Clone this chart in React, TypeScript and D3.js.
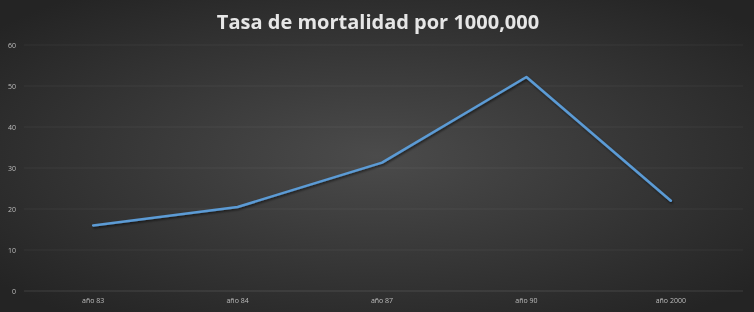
import React from "react";
import * as d3 from "d3";

const categories = ["año 83", "año 84", "año 87", "año 90", "año 2000"];
const values = [16, 20.5, 31.3, 52.2, 22];
const yTicks = [0, 10, 20, 30, 40, 50, 60];
const title = "Tasa de mortalidad por 1000,000";

const W = 754;
const H = 312;
const margin = { left: 21, right: 11, top: 45, bottom: 21 };

export default function App() {
  const x = d3
    .scaleBand<string>()
    .domain(categories)
    .range([margin.left, W - margin.right]);
  const y = d3
    .scaleLinear()
    .domain([0, 60])
    .range([H - margin.bottom, margin.top]);
  const line = d3
    .line<number>()
    .x((_, i) => (x(categories[i]) as number) + x.bandwidth() / 2)
    .y((d) => y(d));

  return (
    <div style={{ position: "fixed", left: 0, top: 0, width: W, height: H }}>
      <svg width={W} height={H} style={{ display: "block" }}>
        <defs>
          <radialGradient id="bg" cx="50%" cy="50%" r="65%">
            <stop offset="0%" stopColor="#4b4b4b" />
            <stop offset="100%" stopColor="#242424" />
          </radialGradient>
          <filter id="sh" x="-10%" y="-10%" width="120%" height="120%">
            <feDropShadow dx="1" dy="1.5" stdDeviation="1.2" floodColor="#000" floodOpacity="0.6" />
          </filter>
        </defs>
        <rect x={0} y={0} width={W} height={H} fill="url(#bg)" />
        <text
          x={W / 2 + 1}
          y={29}
          textAnchor="middle"
          fill="#e6e6e6"
          fontFamily="'Open Sans', 'DejaVu Sans', sans-serif"
          fontWeight={700}
          fontSize={20}
        >
          {title}
        </text>
        {yTicks.map((t) => (
          <g key={t}>
            <line
              x1={margin.left + 3}
              x2={W - margin.right}
              y1={y(t)}
              y2={y(t)}
              stroke="#ffffff"
              strokeOpacity={t === 0 ? 0.13 : 0.06}
              strokeWidth={1}
            />
            <text
              x={16}
              y={y(t) + 2.5}
              textAnchor="end"
              fill="#bdbdbd"
              fontFamily="'Open Sans', sans-serif"
              fontSize={7}
            >
              {t}
            </text>
          </g>
        ))}
        {categories.map((c) => (
          <text
            key={c}
            x={(x(c) as number) + x.bandwidth() / 2}
            y={H - 9}
            textAnchor="middle"
            fill="#bdbdbd"
            fontFamily="'Open Sans', sans-serif"
            fontSize={7}
          >
            {c}
          </text>
        ))}
        <path
          d={line(values) || ""}
          fill="none"
          stroke="#5b9bd5"
          strokeWidth={2.5}
          strokeLinejoin="round"
          strokeLinecap="round"
          filter="url(#sh)"
        />
      </svg>
    </div>
  );
}
